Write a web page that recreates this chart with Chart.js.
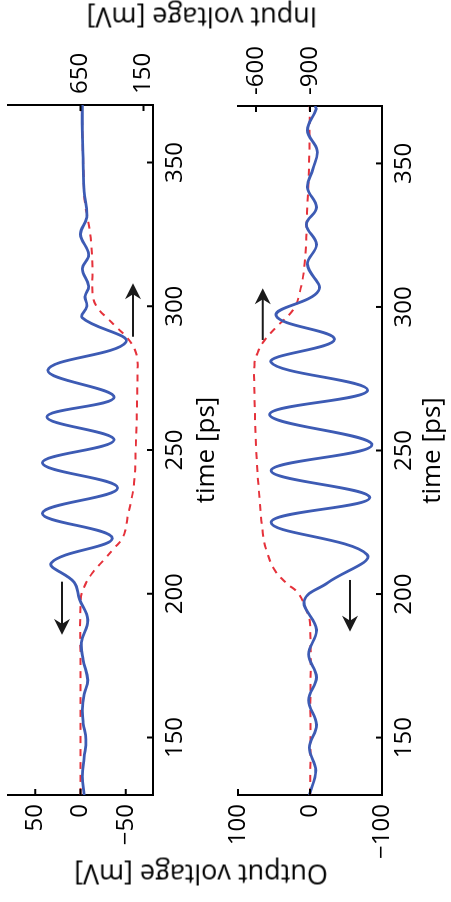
<!DOCTYPE html>
<html>
<head>
<meta charset="utf-8">
<script src="https://cdn.jsdelivr.net/npm/chart.js@4.4.1/dist/chart.umd.min.js"></script>
<style>
  html, body { margin: 0; padding: 0; background: #fff; overflow: hidden; }
  /* figure is laid out landscape, then turned a quarter turn */
  #fig { position: absolute; left: 0; top: 0; width: 902px; height: 451px;
         transform-origin: 0 0; transform: translate(0, 902px) rotate(-90deg);
         font-family: "Open Sans", sans-serif; }
  canvas { position: absolute; left: 0; }
  #c1 { top: 0; }
  #c2 { top: 225px; }
  .ylab { position: absolute; font-size: 27px; line-height: 1; white-space: nowrap; color: #000;
          transform: translate(-50%, -50%) rotate(-90deg); }
</style>
</head>
<body>
<div id="fig">
  <canvas id="c1" width="902" height="225"></canvas>
  <canvas id="c2" width="902" height="226"></canvas>
  <div class="ylab" style="left:27px; top:201px;">Output voltage [mV]</div>
  <div class="ylab" style="left:884px; top:202px;">Input voltage [mV]</div>
</div>
<script>
// tick labels
const timeTicks = [150, 200, 250, 300, 350];
const out1Ticks = [-50, 0, 50];
const in1Ticks = [150, 650];
const out2Ticks = [-100, 0, 100];
const in2Ticks = [-900, -600];

// upper panel: output (solid blue) and input (dashed red)
const out1Time = [130, 136.5, 143, 149.3, 155, 159.7, 165, 170, 177, 183, 191, 198, 204, 210.8, 219.4, 228, 236.8, 245.5, 253.5, 261.5, 268.4, 277.8, 287.5, 296, 300, 303.5, 307, 313, 318, 325, 331, 340, 350, 360, 370];
const out1Val  = [-4, -2, -4, -6, -3, -2, -4, -8, -3, -1, -8, 1, 7, 32, -35, 42, -41, 42, -37, 37, -37, 36, -50, -2, -7, -5, -9, -2, -9, 0, -7, -4, -3, -2, -2];
const in1Time = [130, 150, 175, 198, 202.6, 207.3, 212, 216, 218.8, 222, 226.7, 232, 238.5, 250, 260, 270, 278, 282, 285, 287, 290, 292.7, 296, 298.6, 303, 313, 322, 330, 336, 345, 360, 370];
const in1Val  = [650, 650, 650, 648, 618, 555, 460, 380, 325, 295, 277, 250, 225, 212, 205, 200, 197, 200, 220, 245, 300, 365, 440, 500, 550, 555, 565, 590, 615, 625, 635, 642];

// lower panel
const out2Time = [130, 138.5, 146.5, 154.5, 163, 171, 179, 187.6, 197.7, 204, 213.8, 225, 233.6, 243, 252, 262.5, 271, 280.7, 288.7, 297, 305.7, 314.8, 321.8, 328.7, 334.7, 341.6, 348, 354.5, 361.5, 368.9, 370];
const out2Val  = [1, -8, 1, -9, 2, -9, 2, -9, 8, -25, -79, 54, -83, 54, -86, 56, -80, 54, -34, 47, -12, 3.5, -9, 5, -9, 3.5, -4, -10, 3.5, -8.6, -7];
const in2Time = [130, 160, 190, 194.4, 200.4, 203.8, 208.4, 215.4, 221.3, 232.8, 250.2, 268.7, 280.6, 284, 287.6, 293, 299, 305, 315.5, 333, 350, 370];
const in2Val  = [-902, -902, -900, -880, -833, -769, -703, -657, -638, -620, -601, -592, -592, -609, -638, -713, -806, -843, -871, -884, -895, -899];

// arrows: [time at tail, time at tip, output mV]
const arrows1 = [[204.2, 185.7, 20.4], [289.4, 308, -57.9]];
const arrows2 = [[288.5, 306.5, 65.7], [204.9, 186.9, -55.6]];

Chart.defaults.font.family = '"Open Sans", sans-serif';
Chart.defaults.color = '#000';

const pts = (t, v) => t.map((x, i) => ({ x: x, y: v[i] }));
const minus = v => v < 0 ? '\u2212' + Math.abs(v) : String(v);

// fixed axis sizes, no extra room for half labels
function fixSize(w, h) {
  return s => {
    if (w != null) s.width = w;
    if (h != null) s.height = h;
    s.paddingTop = 0; s.paddingBottom = 0; s.paddingLeft = 0; s.paddingRight = 0;
  };
}

// MATLAB-style ticks pointing into the plot
const innerTicks = {
  id: 'innerTicks',
  afterDraw(chart) {
    const { ctx, chartArea: a, scales } = chart;
    ctx.save();
    ctx.strokeStyle = '#000';
    ctx.lineWidth = 2;
    ctx.beginPath();
    scales.x.ticks.forEach(t => { const p = scales.x.getPixelForValue(t.value); ctx.moveTo(p, a.bottom); ctx.lineTo(p, a.bottom - 6); });
    scales.y.ticks.forEach(t => { const p = scales.y.getPixelForValue(t.value); ctx.moveTo(a.left, p); ctx.lineTo(a.left + 6, p); });
    scales.y2.ticks.forEach(t => { const p = scales.y2.getPixelForValue(t.value); ctx.moveTo(a.right, p); ctx.lineTo(a.right - 6, p); });
    ctx.stroke();
    ctx.restore();
  }
};

const arrowPlugin = {
  id: 'arrows',
  afterDatasetsDraw(chart, args, opts) {
    const { ctx, scales: { x, y } } = chart;
    ctx.save();
    ctx.strokeStyle = '#1a1a1a';
    ctx.fillStyle = '#1a1a1a';
    ctx.lineWidth = 2;
    opts.list.forEach(([t0, t1, v]) => {
      const x0 = x.getPixelForValue(t0), x1 = x.getPixelForValue(t1), py = y.getPixelForValue(v);
      const d = Math.sign(x1 - x0);
      ctx.beginPath();
      ctx.moveTo(x0, py);
      ctx.lineTo(x1 - d * 10, py);
      ctx.stroke();
      ctx.beginPath();
      ctx.moveTo(x1, py);
      ctx.lineTo(x1 - d * 16, py - 8);
      ctx.lineTo(x1 - d * 11, py);
      ctx.lineTo(x1 - d * 16, py + 8);
      ctx.closePath();
      ctx.fill();
    });
    ctx.restore();
  }
};

function panel(id, outData, inData, outTicks, outRange, inTicks, inRange, padTop, xH, rightW, arrows) {
  return new Chart(document.getElementById(id), {
    type: 'line',
    data: {
      datasets: [
        { data: outData, yAxisID: 'y', borderColor: '#3d5bb4', borderWidth: 2.8, pointRadius: 0, tension: 0.4, fill: false },
        { data: inData, yAxisID: 'y2', borderColor: '#e5323b', borderWidth: 2, borderDash: [7, 6], pointRadius: 0, tension: 0.4, fill: false }
      ]
    },
    options: {
      responsive: false,
      animation: false,
      layout: { autoPadding: false, padding: { top: padTop, left: 0, right: 0, bottom: 0 } },
      plugins: { legend: { display: false }, tooltip: { enabled: false }, arrows: { list: arrows } },
      scales: {
        x: {
          type: 'linear', position: 'bottom', min: 130, max: 370,
          afterBuildTicks: s => { s.ticks = timeTicks.map(v => ({ value: v })); },
          afterFit: fixSize(null, xH),
          ticks: { font: { size: 24 }, padding: 8, maxRotation: 0, autoSkip: false },
          grid: { display: false, drawTicks: false },
          border: { display: true, color: '#000', width: 2 },
          title: { display: true, text: 'time [ps]', font: { size: 26 }, padding: { top: 0, bottom: 3 } }
        },
        y: {
          type: 'linear', position: 'left', min: outRange[0], max: outRange[1],
          afterBuildTicks: s => { s.ticks = outTicks.map(v => ({ value: v })); },
          afterFit: fixSize(107, null),
          ticks: { font: { size: 24 }, padding: 9, callback: v => minus(v) },
          grid: { display: false, drawTicks: false },
          border: { display: true, color: '#000', width: 2 }
        },
        y2: {
          type: 'linear', position: 'right', min: inRange[0], max: inRange[1],
          afterBuildTicks: s => { s.ticks = inTicks.map(v => ({ value: v })); },
          afterFit: fixSize(rightW, null),
          ticks: { font: { size: 24 }, padding: 11, callback: v => String(v) },
          grid: { display: false, drawTicks: false },
          border: { display: true, color: '#000', width: 2 }
        }
      }
    },
    plugins: [innerTicks, arrowPlugin]
  });
}

panel('c1', pts(out1Time, out1Val), pts(in1Time, in1Val), out1Ticks, [-80, 80], in1Ticks, [75, 1225], 8, 72, 105, arrows1);
panel('c2', pts(out2Time, out2Val), pts(in2Time, in2Val), out2Ticks, [-100, 100], in2Ticks, [-1300, -500], 13, 69, 106, arrows2);
</script>
</body>
</html>
